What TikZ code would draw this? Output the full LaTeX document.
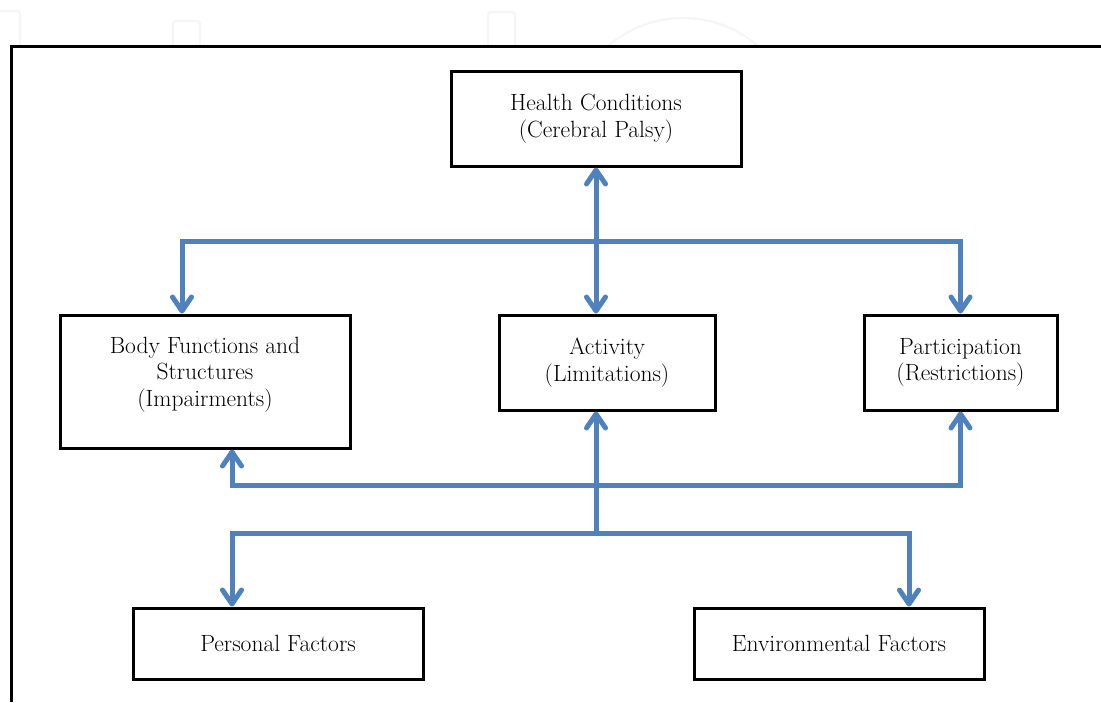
\documentclass[tikz,border=0pt]{standalone}
\usepackage{fontspec}
\usetikzlibrary{arrows.meta}
\definecolor{cblue}{HTML}{4F81BD}
\begin{document}
\begin{tikzpicture}[x=1pt,y=-1pt,
  box/.style={draw=black, line width=3pt, fill=white, align=center, inner sep=0pt,
    font=\fontsize{23.5}{26.5}\selectfont},
  txt/.style={align=center, inner sep=0pt, font=\fontsize{23.5}{26.5}\selectfont},
  conn/.style={draw=cblue, line width=5pt,
    arrows={-}, >={Straight Barb[round,length=14pt,width=19pt]}},
  wm/.style={draw=gray!8, line width=2.2pt, rounded corners=3pt}]
\useasboundingbox (0,0) rectangle (1101,702);
% faint watermark
\begin{scope}
\clip (0,0) rectangle (1101,44);
\draw[wm] (-2,11) -- (20,11) -- (20,50);
\draw[wm] (173,50) -- (173,21) -- (200,21) -- (200,50);
\draw[wm] (488,50) -- (488,12) -- (515,12) -- (515,50);
\draw[draw=gray!8, line width=2.2pt] (683,132) circle (114);
\end{scope}
% frame
\draw[line width=3pt] (11,702) -- (11,46.5) -- (1101,46.5);
% boxes
\node[box, minimum width=290, minimum height=95] (hc) at (596,118.5) {Health Conditions\\(Cerebral Palsy)};
\node[box, minimum width=290, minimum height=133] (bf) at (205,381.5) {};
\node[txt] (bft) at ([yshift=7pt]bf.center) {Body Functions and\\Structures\\(Impairments)};
\node[box, minimum width=216, minimum height=95] (act) at (607,362.5) {Activity\\(Limitations)};
\node[box, minimum width=193, minimum height=95] (pa) at (960.5,362.5) {Participation\\(Restrictions)};
\node[box, minimum width=290, minimum height=71] (pf) at (278,643.5) {Personal Factors};
\node[box, minimum width=290, minimum height=71] (ef) at (839,643.5) {Environmental Factors};
% junction coordinates
\coordinate (ul) at (182,241.5);
\coordinate (ll) at (232,485);
\coordinate (bm) at (596,533);
\coordinate (bl) at (232,533);
\coordinate (br) at (909,533);
% connectors
\draw[conn,<->] (hc.south) -- (hc.south |- act.north);
\draw[conn,<->] (ul |- bf.north) -- (ul) -- (pa.north |- ul) -- (pa.north);
\draw[conn,<->] (ll |- bf.south) -- (ll) -- (pa.south |- ll) -- (pa.south);
\draw[conn,<-] (bm |- act.south) -- (bm);
\draw[conn,<->] (bl |- pf.north) -- (bl) -- (br) -- (br |- ef.north);
\end{tikzpicture}
\end{document}
